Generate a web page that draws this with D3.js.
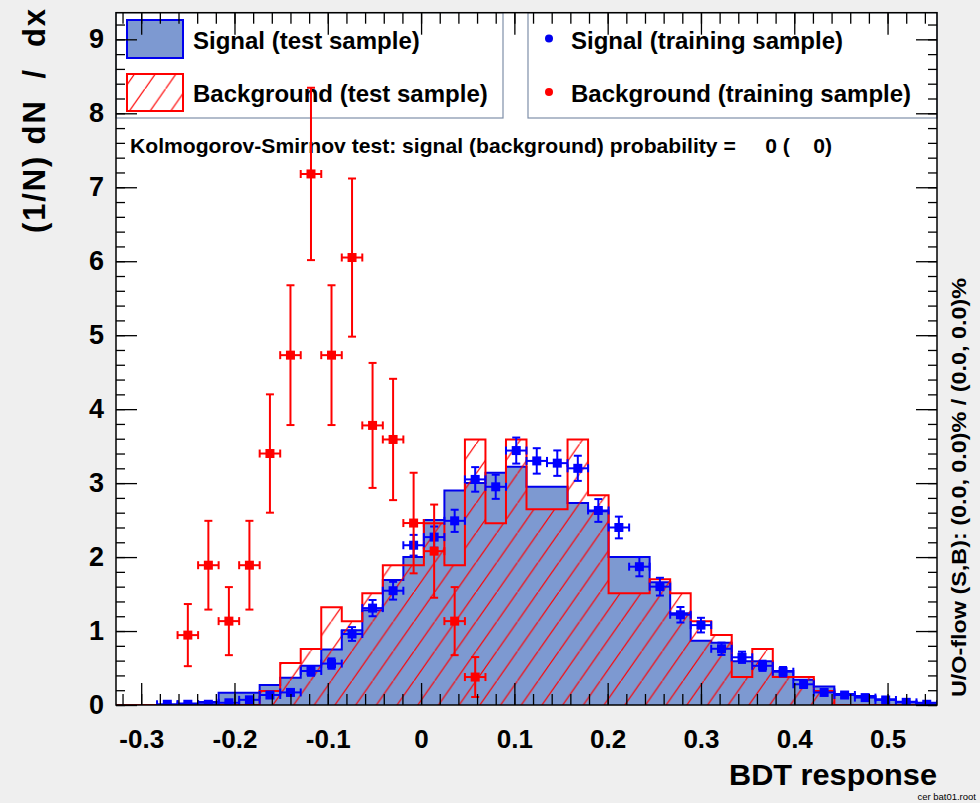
<!DOCTYPE html>
<html>
<head>
<meta charset="utf-8">
<script src="https://cdn.jsdelivr.net/npm/d3@7"></script>
<style>
  html, body { margin: 0; padding: 0; background: #efefef; }
  svg { display: block; font-family: "Liberation Sans", Arial, Helvetica, sans-serif; font-weight: bold; }
  text { white-space: pre; }
</style>
</head>
<body>
<svg id="chart" width="980" height="803"></svg>
<script>
// ---- Binning of the BDT response histograms ----
const xMin = -0.327, xMax = 0.553, nBins = 40;
const yMax = 9.36;

// ---- Normalised distributions (1/N dN/dx), one value per bin ----
const signalTest = [0, 0, 0, 0.02, 0.04, 0.165, 0.165, 0.27, 0.37, 0.53,
  0.75, 1.01, 1.28, 1.69, 2.0, 2.5, 2.9, 3.0, 3.14, 3.22,
  2.95, 2.95, 2.73, 2.62, 2.0, 2.0, 1.66, 1.24, 0.87, 0.84,
  0.59, 0.59, 0.46, 0.34, 0.25, 0.15, 0.12, 0.077, 0.045, 0.03];

const backgroundTest = [0, 0, 0, 0, 0, 0, 0, 0.19, 0.567, 0.756,
  1.32, 1.134, 1.51, 1.89, 1.89, 2.457, 1.89, 3.59, 2.457, 3.59,
  2.646, 2.646, 3.59, 2.835, 1.51, 1.51, 1.70, 1.51, 1.134, 0.945,
  0.378, 0.756, 0.378, 0.378, 0.189, 0, 0, 0, 0, 0];

const signalTrain = [null, null, 0.01, 0.01, 0.01, 0.03, 0.07, 0.135, 0.17, 0.46,
  0.56, 0.96, 1.31, 1.545, 2.16, 2.27, 2.49, 3.05, 2.95, 3.44,
  3.30, 3.27, 3.20, 2.63, 2.40, 1.87, 1.60, 1.22, 1.08, 0.76,
  0.645, 0.53, 0.45, 0.28, 0.17, 0.135, 0.10, 0.068, 0.036, 0.01];

const signalTrainErr = [null, null, 0.01, 0.01, 0.01, 0.016, 0.025, 0.035, 0.04, 0.065,
  0.07, 0.093, 0.11, 0.12, 0.14, 0.143, 0.15, 0.166, 0.163, 0.176,
  0.172, 0.172, 0.17, 0.154, 0.147, 0.13, 0.12, 0.105, 0.099, 0.083,
  0.076, 0.069, 0.064, 0.05, 0.04, 0.035, 0.03, 0.025, 0.018, 0.01];

const backgroundTrain = [null, null, null, 0.945, 1.89, 1.134, 1.89, 3.40, 4.73, 7.18,
  4.73, 6.05, 3.78, 3.59, 2.46, 2.08, 1.134, 0.378, null, null,
  null, null, null, null, null, null, null, null, null, null,
  null, null, null, null, null, null, null, null, null, null];

const backgroundTrainErr = [null, null, null, 0.42, 0.60, 0.46, 0.60, 0.80, 0.945, 1.165,
  0.945, 1.07, 0.845, 0.82, 0.68, 0.63, 0.46, 0.27, null, null,
  null, null, null, null, null, null, null, null, null, null,
  null, null, null, null, null, null, null, null, null, null];

// ---- Axis ticks and labels ----
const xMajorTicks = [-0.3, -0.2, -0.1, 0, 0.1, 0.2, 0.3, 0.4, 0.5];
const xTickLabels = ["-0.3", "-0.2", "-0.1", "0", "0.1", "0.2", "0.3", "0.4", "0.5"];
const yMajorTicks = [0, 1, 2, 3, 4, 5, 6, 7, 8, 9];
const yTickLabels = ["0", "1", "2", "3", "4", "5", "6", "7", "8", "9"];

const legendLeft = ["Signal (test sample)", "Background (test sample)"];
const legendRight = ["Signal (training sample)", "Background (training sample)"];
const ksText = "Kolmogorov-Smirnov test: signal (background) probability =     0 (    0)";
const flowText = "U/O-flow (S,B): (0.0, 0.0)% / (0.0, 0.0)%";

// ---- Colours ----
const sigLine = "#0000ee", sigFill = "#7d99d1", bkgLine = "#ff0000";

// ---- Frame ----
const frame = { left: 116, right: 937, top: 12.7, bottom: 705 };
const svg = d3.select("#chart");

const x = d3.scaleLinear().domain([xMin, xMax]).range([frame.left, frame.right]);
const y = d3.scaleLinear().domain([0, yMax]).range([frame.bottom, frame.top]);

const binWidth = (xMax - xMin) / nBins;
const edges = d3.range(nBins + 1).map(i => xMin + i * binWidth);

const defs = svg.append("defs");
defs.append("clipPath").attr("id", "frameClip")
  .append("rect")
  .attr("x", frame.left).attr("y", frame.top)
  .attr("width", frame.right - frame.left).attr("height", frame.bottom - frame.top);

// Diagonal red hatching for the background histogram
const hp = 20.7, hh = hp * 1.43;
const hatch = defs.append("pattern").attr("id", "hatch")
  .attr("patternUnits", "userSpaceOnUse")
  .attr("width", hp).attr("height", hh);
hatch.append("path")
  .attr("d", `M${-hp * 0.1},${hh * 1.1} L${hp * 1.1},${-hh * 0.1}`)
  .attr("stroke", bkgLine).attr("stroke-width", 1.2).attr("fill", "none");

// plot background
svg.append("rect")
  .attr("x", frame.left).attr("y", frame.top)
  .attr("width", frame.right - frame.left).attr("height", frame.bottom - frame.top)
  .attr("fill", "#ffffff");

// ---- Legends ----
const legBorder = "#7f8fa9";
svg.append("rect").attr("x", frame.left).attr("y", frame.top)
  .attr("width", 503 - frame.left).attr("height", 118 - frame.top)
  .attr("fill", "none").attr("stroke", legBorder).attr("stroke-width", 1.2);
svg.append("rect").attr("x", 528).attr("y", frame.top)
  .attr("width", frame.right - 528).attr("height", 118 - frame.top)
  .attr("fill", "none").attr("stroke", legBorder).attr("stroke-width", 1.2);

svg.append("rect").attr("x", 127).attr("y", 20).attr("width", 56).attr("height", 38)
  .attr("fill", sigFill).attr("stroke", sigLine).attr("stroke-width", 2);
svg.append("rect").attr("x", 127).attr("y", 74).attr("width", 56).attr("height", 37)
  .attr("fill", "url(#hatch)").attr("stroke", bkgLine).attr("stroke-width", 2);

svg.selectAll("text.legL").data(legendLeft).join("text")
  .attr("class", "legL")
  .attr("x", 193).attr("y", (d, i) => 48.7 + i * 53)
  .attr("font-size", 24).attr("fill", "#000")
  .text(d => d);

svg.selectAll("circle.legM").data([sigLine, bkgLine]).join("circle")
  .attr("class", "legM")
  .attr("cx", 549).attr("cy", (d, i) => 38.5 + i * 53.5)
  .attr("r", 4).attr("fill", d => d);

svg.selectAll("text.legR").data(legendRight).join("text")
  .attr("class", "legR")
  .attr("x", 571).attr("y", (d, i) => 48.7 + i * 53)
  .attr("font-size", 24).attr("fill", "#000")
  .text(d => d);

svg.append("text")
  .attr("x", 130).attr("y", 152.5)
  .attr("font-size", 21).attr("fill", "#000")
  .attr("textLength", 702).attr("lengthAdjust", "spacingAndGlyphs")
  .text(ksText);

// ---- Histograms ----
const plot = svg.append("g").attr("clip-path", "url(#frameClip)");

function stepPoints(vals) {
  const p = [[edges[0], 0]];
  vals.forEach((v, i) => p.push([edges[i], v]));
  p.push([edges[nBins], vals[nBins - 1]]);
  p.push([edges[nBins], 0]);
  return p;
}
const stepLine = d3.line().x(d => x(d[0])).y(d => y(d[1])).curve(d3.curveStepAfter);

plot.append("path").attr("d", stepLine(stepPoints(signalTest)))
  .attr("fill", sigFill).attr("stroke", sigLine).attr("stroke-width", 2);
plot.append("path").attr("d", stepLine(stepPoints(backgroundTest)))
  .attr("fill", "url(#hatch)").attr("stroke", bkgLine).attr("stroke-width", 2);

// ---- Training samples: points with error bars ----
function drawPoints(vals, errs, color) {
  const pts = vals.map((v, i) => ({ v, e: errs[i], i })).filter(d => d.v != null);
  const g = plot.append("g").attr("stroke", color).attr("stroke-width", 2).attr("fill", color);
  const cap = 4;
  const pg = g.selectAll("g").data(pts).join("g");
  pg.each(function (d) {
    const s = d3.select(this);
    const x0 = x(edges[d.i]), x1 = x(edges[d.i + 1]);
    const cx = x(edges[d.i] + binWidth / 2), cy = y(d.v);
    const yt = y(d.v + d.e), yb = y(Math.max(0, d.v - d.e));
    s.append("line").attr("x1", x0).attr("x2", x1).attr("y1", cy).attr("y2", cy);
    s.append("line").attr("x1", x0).attr("x2", x0).attr("y1", cy - cap).attr("y2", cy + cap);
    s.append("line").attr("x1", x1).attr("x2", x1).attr("y1", cy - cap).attr("y2", cy + cap);
    s.append("line").attr("x1", cx).attr("x2", cx).attr("y1", yt).attr("y2", yb);
    s.append("line").attr("x1", cx - cap).attr("x2", cx + cap).attr("y1", yt).attr("y2", yt);
    s.append("line").attr("x1", cx - cap).attr("x2", cx + cap).attr("y1", yb).attr("y2", yb);
    s.append("rect").attr("x", cx - 4.5).attr("y", cy - 4.5).attr("width", 9).attr("height", 9)
      .attr("stroke", "none");
  });
}
drawPoints(signalTrain, signalTrainErr, "#0000ff");
drawPoints(backgroundTrain, backgroundTrainErr, "#ff0000");

// ---- Axes (ticks inside the frame, mirrored on top and right) ----
const xMinorTicks = d3.range(-32, 56, 2).map(d => d / 100);
const yMinorTicks = d3.range(0, 47).map(d => d / 5);

function styleAxis(g) {
  g.select(".domain").remove();
  g.selectAll("line").attr("stroke", "#000").attr("stroke-width", 1.3);
}

svg.append("g").attr("transform", `translate(0,${frame.bottom})`)
  .call(d3.axisBottom(x).tickValues(xMinorTicks).tickSize(-11).tickSizeOuter(0).tickFormat(""))
  .call(styleAxis);
const xAx = svg.append("g").attr("transform", `translate(0,${frame.bottom})`)
  .call(d3.axisBottom(x).tickValues(xMajorTicks).tickSize(-22).tickSizeOuter(0)
    .tickPadding(25).tickFormat((d, i) => xTickLabels[i]))
  .call(styleAxis);
xAx.attr("font-family", null).attr("font-size", null);
xAx.selectAll("text").attr("font-size", 26).attr("fill", "#000");

svg.append("g").attr("transform", `translate(0,${frame.top})`)
  .call(d3.axisTop(x).tickValues(xMinorTicks).tickSize(-11).tickSizeOuter(0).tickFormat(""))
  .call(styleAxis);
svg.append("g").attr("transform", `translate(0,${frame.top})`)
  .call(d3.axisTop(x).tickValues(xMajorTicks).tickSize(-22).tickSizeOuter(0).tickFormat(""))
  .call(styleAxis);

svg.append("g").attr("transform", `translate(${frame.left},0)`)
  .call(d3.axisLeft(y).tickValues(yMinorTicks).tickSize(-9).tickSizeOuter(0).tickFormat(""))
  .call(styleAxis);
const yAx = svg.append("g").attr("transform", `translate(${frame.left},0)`)
  .call(d3.axisLeft(y).tickValues(yMajorTicks).tickSize(-21).tickSizeOuter(0)
    .tickPadding(12).tickFormat((d, i) => yTickLabels[i]))
  .call(styleAxis);
yAx.attr("font-family", null).attr("font-size", null);
yAx.selectAll("text").attr("font-size", 27).attr("fill", "#000");

svg.append("g").attr("transform", `translate(${frame.right},0)`)
  .call(d3.axisRight(y).tickValues(yMinorTicks).tickSize(-9).tickSizeOuter(0).tickFormat(""))
  .call(styleAxis);
svg.append("g").attr("transform", `translate(${frame.right},0)`)
  .call(d3.axisRight(y).tickValues(yMajorTicks).tickSize(-21).tickSizeOuter(0).tickFormat(""))
  .call(styleAxis);

svg.append("rect")
  .attr("x", frame.left).attr("y", frame.top)
  .attr("width", frame.right - frame.left).attr("height", frame.bottom - frame.top)
  .attr("fill", "none").attr("stroke", "#000").attr("stroke-width", 1.5);

// ---- Titles ----
svg.append("text")
  .attr("transform", "translate(45,9) rotate(-90)")
  .attr("text-anchor", "end")
  .attr("font-size", 31).attr("fill", "#000")
  .attr("textLength", 224).attr("lengthAdjust", "spacing")
  .text("(1/N) dN  /  dx");

svg.append("text")
  .attr("x", 976).attr("y", 800)
  .attr("text-anchor", "end")
  .attr("font-size", 9.5).attr("font-weight", "normal").attr("fill", "#000")
  .text("cer bat01.root");

svg.append("text")
  .attr("x", 937).attr("y", 785)
  .attr("text-anchor", "end")
  .attr("font-size", 30).attr("fill", "#000")
  .attr("textLength", 208).attr("lengthAdjust", "spacingAndGlyphs")
  .text("BDT response");

svg.append("text")
  .attr("transform", "translate(966,697) rotate(-90)")
  .attr("font-size", 21).attr("fill", "#000")
  .attr("textLength", 419).attr("lengthAdjust", "spacingAndGlyphs")
  .text(flowText);
</script>
</body>
</html>
